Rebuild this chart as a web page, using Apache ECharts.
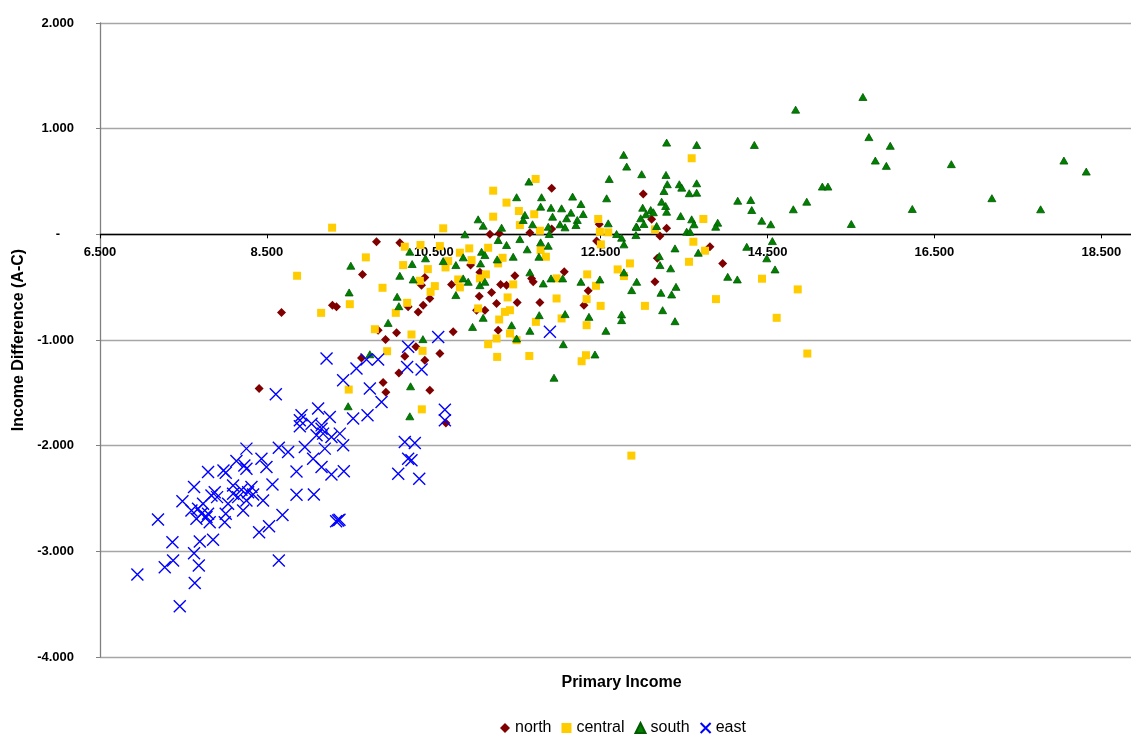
<!DOCTYPE html>
<html>
<head>
<meta charset="utf-8">
<script src="https://cdn.jsdelivr.net/npm/echarts@6/dist/echarts.min.js"></script>
<style>
html,body{margin:0;padding:0;background:#fff;}
#chart{width:1131px;height:734px;}
</style>
</head>
<body>
<div id="chart"></div>
<script>
// Tick labels
const xTicks = [6.5, 8.5, 10.5, 12.5, 14.5, 16.5, 18.5];
const yTicks = [-4, -3, -2, -1, 0, 1, 2];

// Series values [Primary Income, Income Difference (A-C)]
const north = [
[8.407,-1.46],
[10.054,-0.932],[9.922,-0.995],[10.733,-0.923],[10.153,-1.153],[10.393,-1.191],[10.573,-1.128],[10.082,-1.312],[9.893,-1.403],[9.926,-1.495],[10.453,-1.476],[9.634,-1.17],[9.833,-0.907],[10.286,-1.065],[10.645,-1.786],
[9.814,-0.07],[10.093,-0.08],[9.646,-0.379],[8.675,-0.739],[9.286,-0.67],[9.334,-0.686],[10.393,-0.408],[10.353,-0.481],[10.713,-0.474],[10.453,-0.607],[10.193,-0.686],[10.373,-0.67],[10.313,-0.734],[10.941,-0.291],[11.013,-0.718],[11.045,-0.585],
[11.913,0.436],[11.173,0.0],[11.284,0.009],[11.652,0.015],[11.913,0.05],[12.483,0.095],[12.452,-0.064],[11.472,-0.392],[11.301,-0.474],[11.372,-0.481],[11.672,-0.417],[11.692,-0.449],[12.064,-0.354],[11.053,-0.36],[11.193,-0.55],[11.253,-0.654],[11.5,-0.645],[11.772,-0.645],[12.351,-0.534],[12.3,-0.67],[11.113,-0.718],[11.272,-0.907],
[13.011,0.382],[13.111,0.142],[13.291,0.057],[13.211,-0.016],[13.81,-0.118],[13.963,-0.275],[13.179,-0.227],[13.151,-0.449]
];

const central = [
[9.794,-0.898],[10.233,-0.948],[9.941,-1.106],[10.366,-1.103],[9.481,-1.469],[10.357,-1.656],
[9.282,0.063],[10.613,0.057],[9.686,-0.218],[8.862,-0.392],[9.886,-0.506],[9.494,-0.661],[9.15,-0.743],[10.153,-0.117],[10.341,-0.101],[10.573,-0.111],[10.133,-0.291],[10.429,-0.329],[10.333,-0.44],[10.513,-0.49],[10.462,-0.544],[10.181,-0.648],[10.045,-0.743],[10.641,-0.313],[10.813,-0.174],[10.925,-0.133],[10.953,-0.244],[10.793,-0.427],[10.813,-0.502],[10.673,-0.253],[11.032,-0.701],
[11.721,0.524],[11.212,0.413],[11.372,0.3],[11.52,0.221],[11.704,0.19],[11.212,0.167],[11.532,0.088],[11.772,0.034],[12.471,0.145],[12.591,0.019],[12.491,0.025],[12.503,-0.095],[11.152,-0.127],[11.781,-0.149],[11.844,-0.212],[11.325,-0.222],[11.272,-0.275],[11.125,-0.379],[11.053,-0.417],[11.452,-0.474],[11.972,-0.417],[12.339,-0.379],[12.444,-0.487],[12.851,-0.275],[12.704,-0.332],[12.779,-0.395],[12.332,-0.613],[12.5,-0.677],[11.972,-0.607],[11.385,-0.597],[11.353,-0.734],[11.413,-0.718],[11.284,-0.806],[11.724,-0.828],[12.032,-0.796],[12.332,-0.86],[11.413,-0.938],[11.253,-0.986],[11.152,-1.04],[11.493,-1.002],[11.26,-1.16],[11.645,-1.151],[12.272,-1.201],[12.324,-1.144],
[13.591,0.72],[13.731,0.145],[13.151,0.047],[13.611,-0.07],[13.751,-0.155],[13.559,-0.26],[14.434,-0.42],[14.862,-0.521],[13.882,-0.613],[13.031,-0.677],[14.61,-0.79],[14.977,-1.128],
[12.868,-2.094]
];

const south = [
[9.953,-0.838],[10.37,-0.992],[9.734,-1.135],[10.965,-0.876],[10.222,-1.438],[9.474,-1.627],[10.213,-1.722],
[9.506,-0.297],[9.486,-0.55],[10.093,-0.392],[10.253,-0.427],[10.061,-0.591],[10.082,-0.68],[10.213,-0.164],[10.241,-0.281],[10.401,-0.227],[10.613,-0.253],[10.765,-0.291],[10.853,-0.218],[10.873,0.0],[11.032,0.142],[10.853,-0.417],[10.913,-0.449],[10.765,-0.575],
[12.812,0.641],[12.603,0.524],[11.64,0.499],[11.493,0.351],[11.792,0.351],[12.164,0.357],[12.572,0.341],[11.781,0.262],[11.905,0.252],[12.032,0.246],[12.264,0.287],[11.592,0.183],[11.572,0.136],[11.924,0.167],[12.092,0.152],[12.144,0.205],[12.291,0.192],[12.22,0.136],[11.092,0.082],[11.313,0.063],[11.684,0.095],[11.872,0.072],[12.013,0.095],[12.073,0.066],[12.204,0.088],[11.884,0.003],[12.591,0.104],[12.932,0.072],[12.691,0.003],[12.751,-0.032],[12.779,-0.095],[12.923,-0.007],[11.272,-0.054],[11.372,-0.101],[11.532,-0.045],[11.781,-0.076],[11.872,-0.108],[11.62,-0.142],[11.073,-0.165],[11.113,-0.196],[11.452,-0.212],[11.26,-0.237],[11.76,-0.212],[11.061,-0.275],[11.652,-0.36],[11.053,-0.481],[11.113,-0.449],[11.905,-0.417],[12.045,-0.417],[11.812,-0.465],[12.264,-0.449],[12.491,-0.427],[12.779,-0.36],[12.932,-0.449],[12.872,-0.528],[11.092,-0.79],[11.433,-0.86],[11.652,-0.913],[11.764,-0.765],[12.074,-0.755],[12.36,-0.781],[12.751,-0.758],[12.751,-0.812],[12.563,-0.913],[11.493,-0.986],[12.052,-1.04],[12.432,-1.137],
[13.291,0.868],[13.651,0.846],[14.342,0.846],[12.992,0.569],[13.283,0.562],[13.299,0.474],[13.443,0.474],[13.472,0.442],[13.651,0.483],[13.651,0.394],[13.562,0.389],[13.259,0.41],[13.231,0.309],[13.279,0.268],[13.291,0.214],[13.004,0.252],[13.1,0.23],[13.132,0.209],[13.043,0.19],[12.98,0.152],[13.019,0.098],[12.925,0.072],[13.171,0.079],[13.459,0.173],[13.591,0.142],[13.619,0.095],[13.531,0.025],[13.571,0.025],[13.903,0.11],[13.879,0.072],[14.143,0.318],[14.299,0.325],[14.311,0.23],[14.97,0.309],[14.809,0.237],[14.431,0.129],[14.539,0.095],[14.558,-0.064],[14.251,-0.118],[14.491,-0.227],[13.391,-0.133],[13.67,-0.174],[13.203,-0.206],[13.211,-0.291],[13.339,-0.322],[14.59,-0.332],[14.023,-0.402],[14.138,-0.427],[13.403,-0.497],[13.223,-0.553],[13.351,-0.569],[13.243,-0.718],[13.391,-0.822],
[15.643,1.3],[15.715,0.92],[15.971,0.838],[15.792,0.698],[15.924,0.648],[16.703,0.664],[18.052,0.698],[18.32,0.594],[15.157,0.452],[15.224,0.452],[17.189,0.342],[16.235,0.24],[17.773,0.237],[15.504,0.098],
[14.837,1.18],[12.776,0.752],[11.941,-1.357]
];

const east = [
[8.607,-1.514],[8.255,-2.028],[8.643,-2.019],[8.754,-2.06],[7.795,-2.25],[8.007,-2.256],[7.627,-2.392],[7.488,-2.525],[7.195,-2.699],[7.368,-2.914],[7.376,-3.087],[7.276,-3.151],[6.948,-3.22],[7.636,-3.299],[7.456,-3.52],[7.684,-3.135],[7.627,-3.018],[7.696,-2.907],[7.855,-2.891],[8.407,-2.819],[8.526,-2.762],[8.687,-2.657],[8.643,-3.087],[8.454,-2.519],[8.567,-2.367],[8.855,-2.464],[8.855,-2.244],[8.435,-2.123],[8.495,-2.203],[8.23,-2.187],[8.255,-2.218],[8.135,-2.146],[7.98,-2.234],[8.095,-2.376],[8.195,-2.417],[8.275,-2.44],[8.335,-2.462],[8.255,-2.519],[8.155,-2.487],[8.315,-2.392],[7.875,-2.44],[7.836,-2.471],[7.903,-2.487],[7.735,-2.55],[7.675,-2.597],[7.596,-2.613],[7.716,-2.645],[7.795,-2.645],[7.656,-2.692],[7.815,-2.724],[7.776,-2.676],[8.007,-2.645],[7.995,-2.724],[8.215,-2.613],[8.095,-2.455],[8.035,-2.55],
[9.215,-1.175],[9.574,-1.27],[9.414,-1.381],[9.694,-1.185],[9.833,-1.185],[9.734,-1.46],[9.874,-1.587],[10.193,-1.065],[10.553,-0.971],[10.181,-1.255],[10.354,-1.28],[9.534,-1.744],[9.706,-1.713],[8.915,-1.713],[8.895,-1.76],[9.114,-1.649],[9.254,-1.729],[9.155,-1.808],[8.895,-1.817],[9.035,-1.792],[9.095,-1.902],[9.174,-1.886],[9.274,-1.918],[9.374,-1.886],[9.155,-1.839],[9.414,-1.997],[8.955,-2.013],[9.194,-2.028],[9.054,-2.123],[9.155,-2.203],[9.274,-2.272],[9.422,-2.241],[9.063,-2.462],[9.354,-2.708],[9.37,-2.7],[9.33,-2.715],[10.153,-1.966],[10.273,-1.975],[10.233,-2.139],[10.074,-2.266],[10.326,-2.313],[10.633,-1.659],[10.633,-1.76],[10.193,-2.123],
[11.892,-0.923]
];

const FONT = '"Liberation Sans", Arial, sans-serif';
const chart = echarts.init(document.getElementById('chart'), null, {renderer: 'canvas'});
chart.setOption({
  animation: false,
  backgroundColor: '#ffffff',
  textStyle: {fontFamily: FONT},
  grid: {left: 100, top: 23, right: -12, bottom: 77, containLabel: false, outerBoundsMode: 'none'},
  legend: {
    left: 495, top: 715,
    itemWidth: 10, itemHeight: 10, itemGap: 10,
    textStyle: {fontFamily: FONT, fontSize: 16, color: '#000'},
    data: ['north', 'central', 'south', 'east']
  },
  xAxis: {
    type: 'value', min: 6.5, max: 19,
    name: 'Primary Income', nameLocation: 'middle', nameGap: 18,
    nameTextStyle: {fontFamily: FONT, fontSize: 16, fontWeight: 'bold', color: '#000'},
    axisLine: {onZero: true, lineStyle: {color: '#000', width: 1.3}},
    axisTick: {show: true, length: 4, customValues: xTicks, lineStyle: {color: '#000'}},
    axisLabel: {customValues: xTicks, margin: -411, fontSize: 13, fontWeight: 'bold', color: '#000', fontFamily: FONT,
      formatter: v => v.toFixed(3)},
    splitLine: {show: false}
  },
  yAxis: {
    type: 'value', min: -4, max: 2, interval: 1,
    name: 'Income Difference (A-C)', nameLocation: 'middle', nameGap: 67,
    nameTextStyle: {fontFamily: FONT, fontSize: 16, fontWeight: 'bold', color: '#000'},
    axisLine: {show: true, onZero: false, lineStyle: {color: '#808080', width: 1.3}},
    axisTick: {show: true, length: 4, lineStyle: {color: '#808080'}},
    axisLabel: {margin: 26, fontSize: 13, fontWeight: 'bold', color: '#000', fontFamily: FONT,
      formatter: v => (v === 0 ? '{z|-}' : v.toFixed(3)),
      rich: {z: {fontSize: 13, fontWeight: 'bold', fontFamily: FONT, color: '#000', padding: [0, 14, 0, 0]}}},
    splitLine: {show: true, lineStyle: {color: '#a6a6a6', width: 1.3}}
  },
  series: [
    {name: 'north', type: 'scatter', data: north, symbol: 'diamond', symbolSize: 9,
      itemStyle: {color: '#800000', opacity: 1}},
    {name: 'central', type: 'scatter', data: central, symbol: 'rect', symbolSize: 8,
      itemStyle: {color: '#ffcc00', opacity: 1}},
    {name: 'south', type: 'scatter', data: south, symbol: 'triangle', symbolSize: [8, 7],
      itemStyle: {color: '#008000', borderColor: '#005a00', borderWidth: 0.8, opacity: 1}},
    {name: 'east', type: 'scatter', data: east, symbol: 'path://M0,0L10,10M10,0L0,10', symbolSize: 12,
      itemStyle: {color: 'rgba(0,0,0,0)', borderColor: '#0000ff', borderWidth: 1.4, opacity: 1}}
  ]
});
</script>
</body>
</html>
